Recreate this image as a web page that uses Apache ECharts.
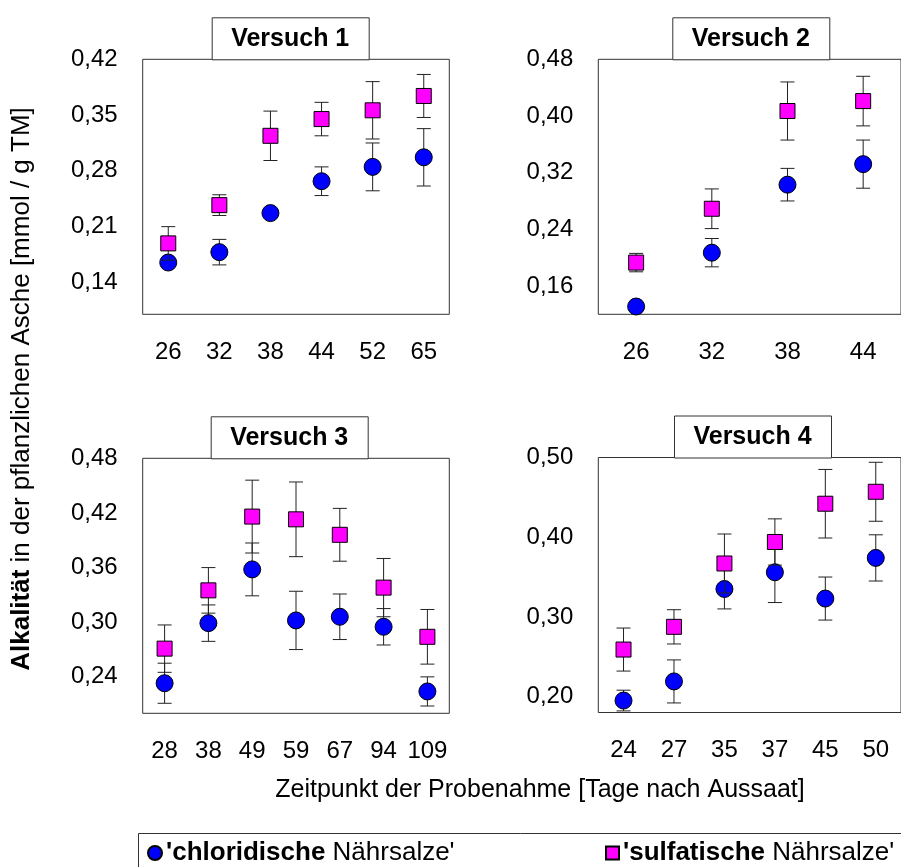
<!DOCTYPE html>
<html>
<head>
<meta charset="utf-8">
<script src="https://cdn.jsdelivr.net/npm/echarts@6/dist/echarts.min.js"></script>
<style>
  html, body { margin: 0; padding: 0; background: #fff; }
  #chart { width: 901px; height: 867px; }
</style>
</head>
<body>
<div id="chart"></div>
<script>
// Versuch 1
const cats1 = ['26', '32', '38', '44', '52', '65'];
const chlor1 = [0.165, 0.178, 0.227, 0.267, 0.285, 0.297];
const chlorErr1 = [0.004, 0.016, 0.005, 0.018, 0.030, 0.036];
const sulf1 = [0.189, 0.237, 0.324, 0.345, 0.356, 0.374];
const sulfErr1 = [0.021, 0.013, 0.031, 0.021, 0.036, 0.027];
const yTicks1 = [0.14, 0.21, 0.28, 0.35, 0.42];

// Versuch 2
const cats2 = ['26', '32', '38', '44'];
const chlor2 = [0.131, 0.207, 0.303, 0.332];
const chlorErr2 = [0.004, 0.020, 0.023, 0.034];
const sulf2 = [0.193, 0.269, 0.407, 0.421];
const sulfErr2 = [0.013, 0.028, 0.041, 0.035];
const yTicks2 = [0.16, 0.24, 0.32, 0.40, 0.48];

// Versuch 3
const cats3 = ['28', '38', '49', '59', '67', '94', '109'];
const chlor3 = [0.233, 0.299, 0.358, 0.302, 0.306, 0.295, 0.224];
const chlorErr3 = [0.022, 0.020, 0.029, 0.032, 0.025, 0.020, 0.016];
const sulf3 = [0.271, 0.335, 0.416, 0.413, 0.396, 0.338, 0.284];
const sulfErr3 = [0.026, 0.025, 0.040, 0.041, 0.029, 0.032, 0.030];
const yTicks3 = [0.24, 0.30, 0.36, 0.42, 0.48];

// Versuch 4
const cats4 = ['24', '27', '35', '37', '45', '50'];
const chlor4 = [0.195, 0.219, 0.335, 0.356, 0.323, 0.374];
const chlorErr4 = [0.013, 0.027, 0.025, 0.038, 0.027, 0.029];
const sulf4 = [0.259, 0.2875, 0.367, 0.394, 0.442, 0.457];
const sulfErr4 = [0.027, 0.0215, 0.037, 0.029, 0.043, 0.037];
const yTicks4 = [0.20, 0.30, 0.40, 0.50];

const titles = ['Versuch 1', 'Versuch 2', 'Versuch 3', 'Versuch 4'];

const FONT = '"Liberation Sans", Arial, sans-serif';
const FS = 24;

const panels = [
    { cats: cats1, chlor: chlor1, chlorErr: chlorErr1, sulf: sulf1, sulfErr: sulfErr1, ticks: yTicks1, min: 0.10, max: 0.42,
      grid: { left: 142.7, top: 59.3 }, titleBox: [211.7, 17.3] },
    { cats: cats2, chlor: chlor2, chlorErr: chlorErr2, sulf: sulf2, sulfErr: sulfErr2, ticks: yTicks2, min: 0.12, max: 0.48,
      grid: { left: 598.3, top: 59.3 }, titleBox: [672.3, 17.3] },
    { cats: cats3, chlor: chlor3, chlorErr: chlorErr3, sulf: sulf3, sulfErr: sulfErr3, ticks: yTicks3, min: 0.20, max: 0.48,
      grid: { left: 142.7, top: 458.3 }, titleBox: [210.7, 416.3] },
    { cats: cats4, chlor: chlor4, chlorErr: chlorErr4, sulf: sulf4, sulfErr: sulfErr4, ticks: yTicks4, min: 0.18, max: 0.50,
      grid: { left: 598.3, top: 457.5 }, titleBox: [674, 415.5] }
];

function errRenderItem(params, api) {
    const lo = api.coord([api.value(0), api.value(1)]);
    const hi = api.coord([api.value(0), api.value(2)]);
    const w = 7;
    const style = { stroke: '#222', lineWidth: 1 };
    return {
        type: 'group',
        children: [
            { type: 'line', shape: { x1: lo[0], y1: lo[1], x2: hi[0], y2: hi[1] }, style },
            { type: 'line', shape: { x1: lo[0] - w, y1: lo[1], x2: lo[0] + w, y2: lo[1] }, style },
            { type: 'line', shape: { x1: hi[0] - w, y1: hi[1], x2: hi[0] + w, y2: hi[1] }, style }
        ]
    };
}

const grids = [], xAxes = [], yAxes = [], series = [], graphics = [];

panels.forEach((p, i) => {
    grids.push({
        left: p.grid.left, top: p.grid.top, width: 306.6, height: 255,
        show: true, borderColor: '#333', borderWidth: 1
    });
    xAxes.push({
        type: 'category', gridIndex: i, data: p.cats,
        axisLine: { show: false },
        axisTick: { alignWithLabel: true, interval: 0, length: 13, lineStyle: { color: '#333' } },
        axisLabel: { interval: 0, margin: 26, fontSize: FS, fontFamily: FONT, color: '#000' },
        splitLine: { show: false }
    });
    yAxes.push({
        type: 'value', gridIndex: i, min: p.min, max: p.max,
        axisLine: { show: false },
        axisTick: { length: 13, customValues: p.ticks, lineStyle: { color: '#333' } },
        axisLabel: {
            margin: 25, fontSize: FS, fontFamily: FONT, color: '#000',
            customValues: p.ticks,
            formatter: v => v.toFixed(2).replace('.', ',')
        },
        splitLine: { show: false }
    });

    const chlorBars = p.chlor.map((v, k) => [k, v - p.chlorErr[k], v + p.chlorErr[k]]);
    const sulfBars = p.sulf.map((v, k) => [k, v - p.sulfErr[k], v + p.sulfErr[k]]);

    series.push({
        type: 'custom', xAxisIndex: i, yAxisIndex: i, z: 1,
        renderItem: errRenderItem, encode: { x: 0, y: [1, 2] }, data: chlorBars, silent: true
    });
    series.push({
        name: 'chloridische', type: 'scatter', xAxisIndex: i, yAxisIndex: i, z: 2,
        symbol: 'circle', symbolSize: 17,
        itemStyle: { color: '#0000FF', borderColor: '#000', borderWidth: 1, opacity: 1 },
        data: p.chlor
    });
    series.push({
        type: 'custom', xAxisIndex: i, yAxisIndex: i, z: 3,
        renderItem: errRenderItem, encode: { x: 0, y: [1, 2] }, data: sulfBars, silent: true
    });
    series.push({
        name: 'sulfatische', type: 'scatter', xAxisIndex: i, yAxisIndex: i, z: 4,
        symbol: 'rect', symbolSize: 15,
        itemStyle: { color: '#FF00FF', borderColor: '#000', borderWidth: 1, opacity: 1 },
        data: p.sulf
    });

    // Titelkasten
    graphics.push({
        type: 'rect', left: p.titleBox[0], top: p.titleBox[1],
        shape: { width: 157, height: 42 },
        style: { fill: '#fff', stroke: '#333', lineWidth: 1 }
    });
    graphics.push({
        type: 'text', x: p.titleBox[0] + 78.5, y: p.titleBox[1] + 21.5,
        style: {
            text: titles[i], fontSize: 25, fontWeight: 'bold', fontFamily: FONT,
            fill: '#000', align: 'center', verticalAlign: 'middle'
        }
    });
});

// Achsentitel
graphics.push({
    type: 'text', x: 22, y: 389, rotation: Math.PI / 2,
    style: {
        text: '{b|Alkalität} in der pflanzlichen Asche [mmol / g TM]',
        fontSize: 26, fontFamily: FONT, fill: '#000',
        align: 'center', verticalAlign: 'middle',
        rich: { b: { fontSize: 26, fontFamily: FONT, fontWeight: 'bold', fill: '#000' } }
    }
});
graphics.push({
    type: 'text', x: 540, y: 790,
    style: {
        text: 'Zeitpunkt der Probenahme [Tage nach Aussaat]',
        fontSize: 25, fontFamily: FONT, fill: '#000',
        align: 'center', verticalAlign: 'middle'
    }
});
// Legendenrahmen
graphics.push({
    type: 'rect', left: 136, top: 831,
    shape: { width: 800, height: 80 },
    style: { fill: 'none', stroke: '#333', lineWidth: 1 }
});

const legendText = {
    fontSize: 26, fontFamily: FONT, color: '#000', padding: [0, 0, 0, -1],
    rich: { b: { fontSize: 26, fontFamily: FONT, fontWeight: 'bold', color: '#000' } }
};
const legendFmt = n => "{b|'" + n + "} Nährsalze'";

const chart = echarts.init(document.getElementById('chart'));
chart.setOption({
    backgroundColor: '#fff',
    animation: false,
    grid: grids,
    xAxis: xAxes,
    yAxis: yAxes,
    series: series,
    graphic: graphics,
    legend: [
        { data: ['chloridische'], left: 147, top: 840, padding: 0, itemWidth: 14, itemHeight: 14,
          icon: 'circle', textStyle: legendText, formatter: legendFmt, selectedMode: false },
        { data: ['sulfatische'], left: 605, top: 840, padding: 0, itemWidth: 13, itemHeight: 13,
          icon: 'rect', textStyle: legendText, formatter: legendFmt, selectedMode: false }
    ]
});
</script>
</body>
</html>
